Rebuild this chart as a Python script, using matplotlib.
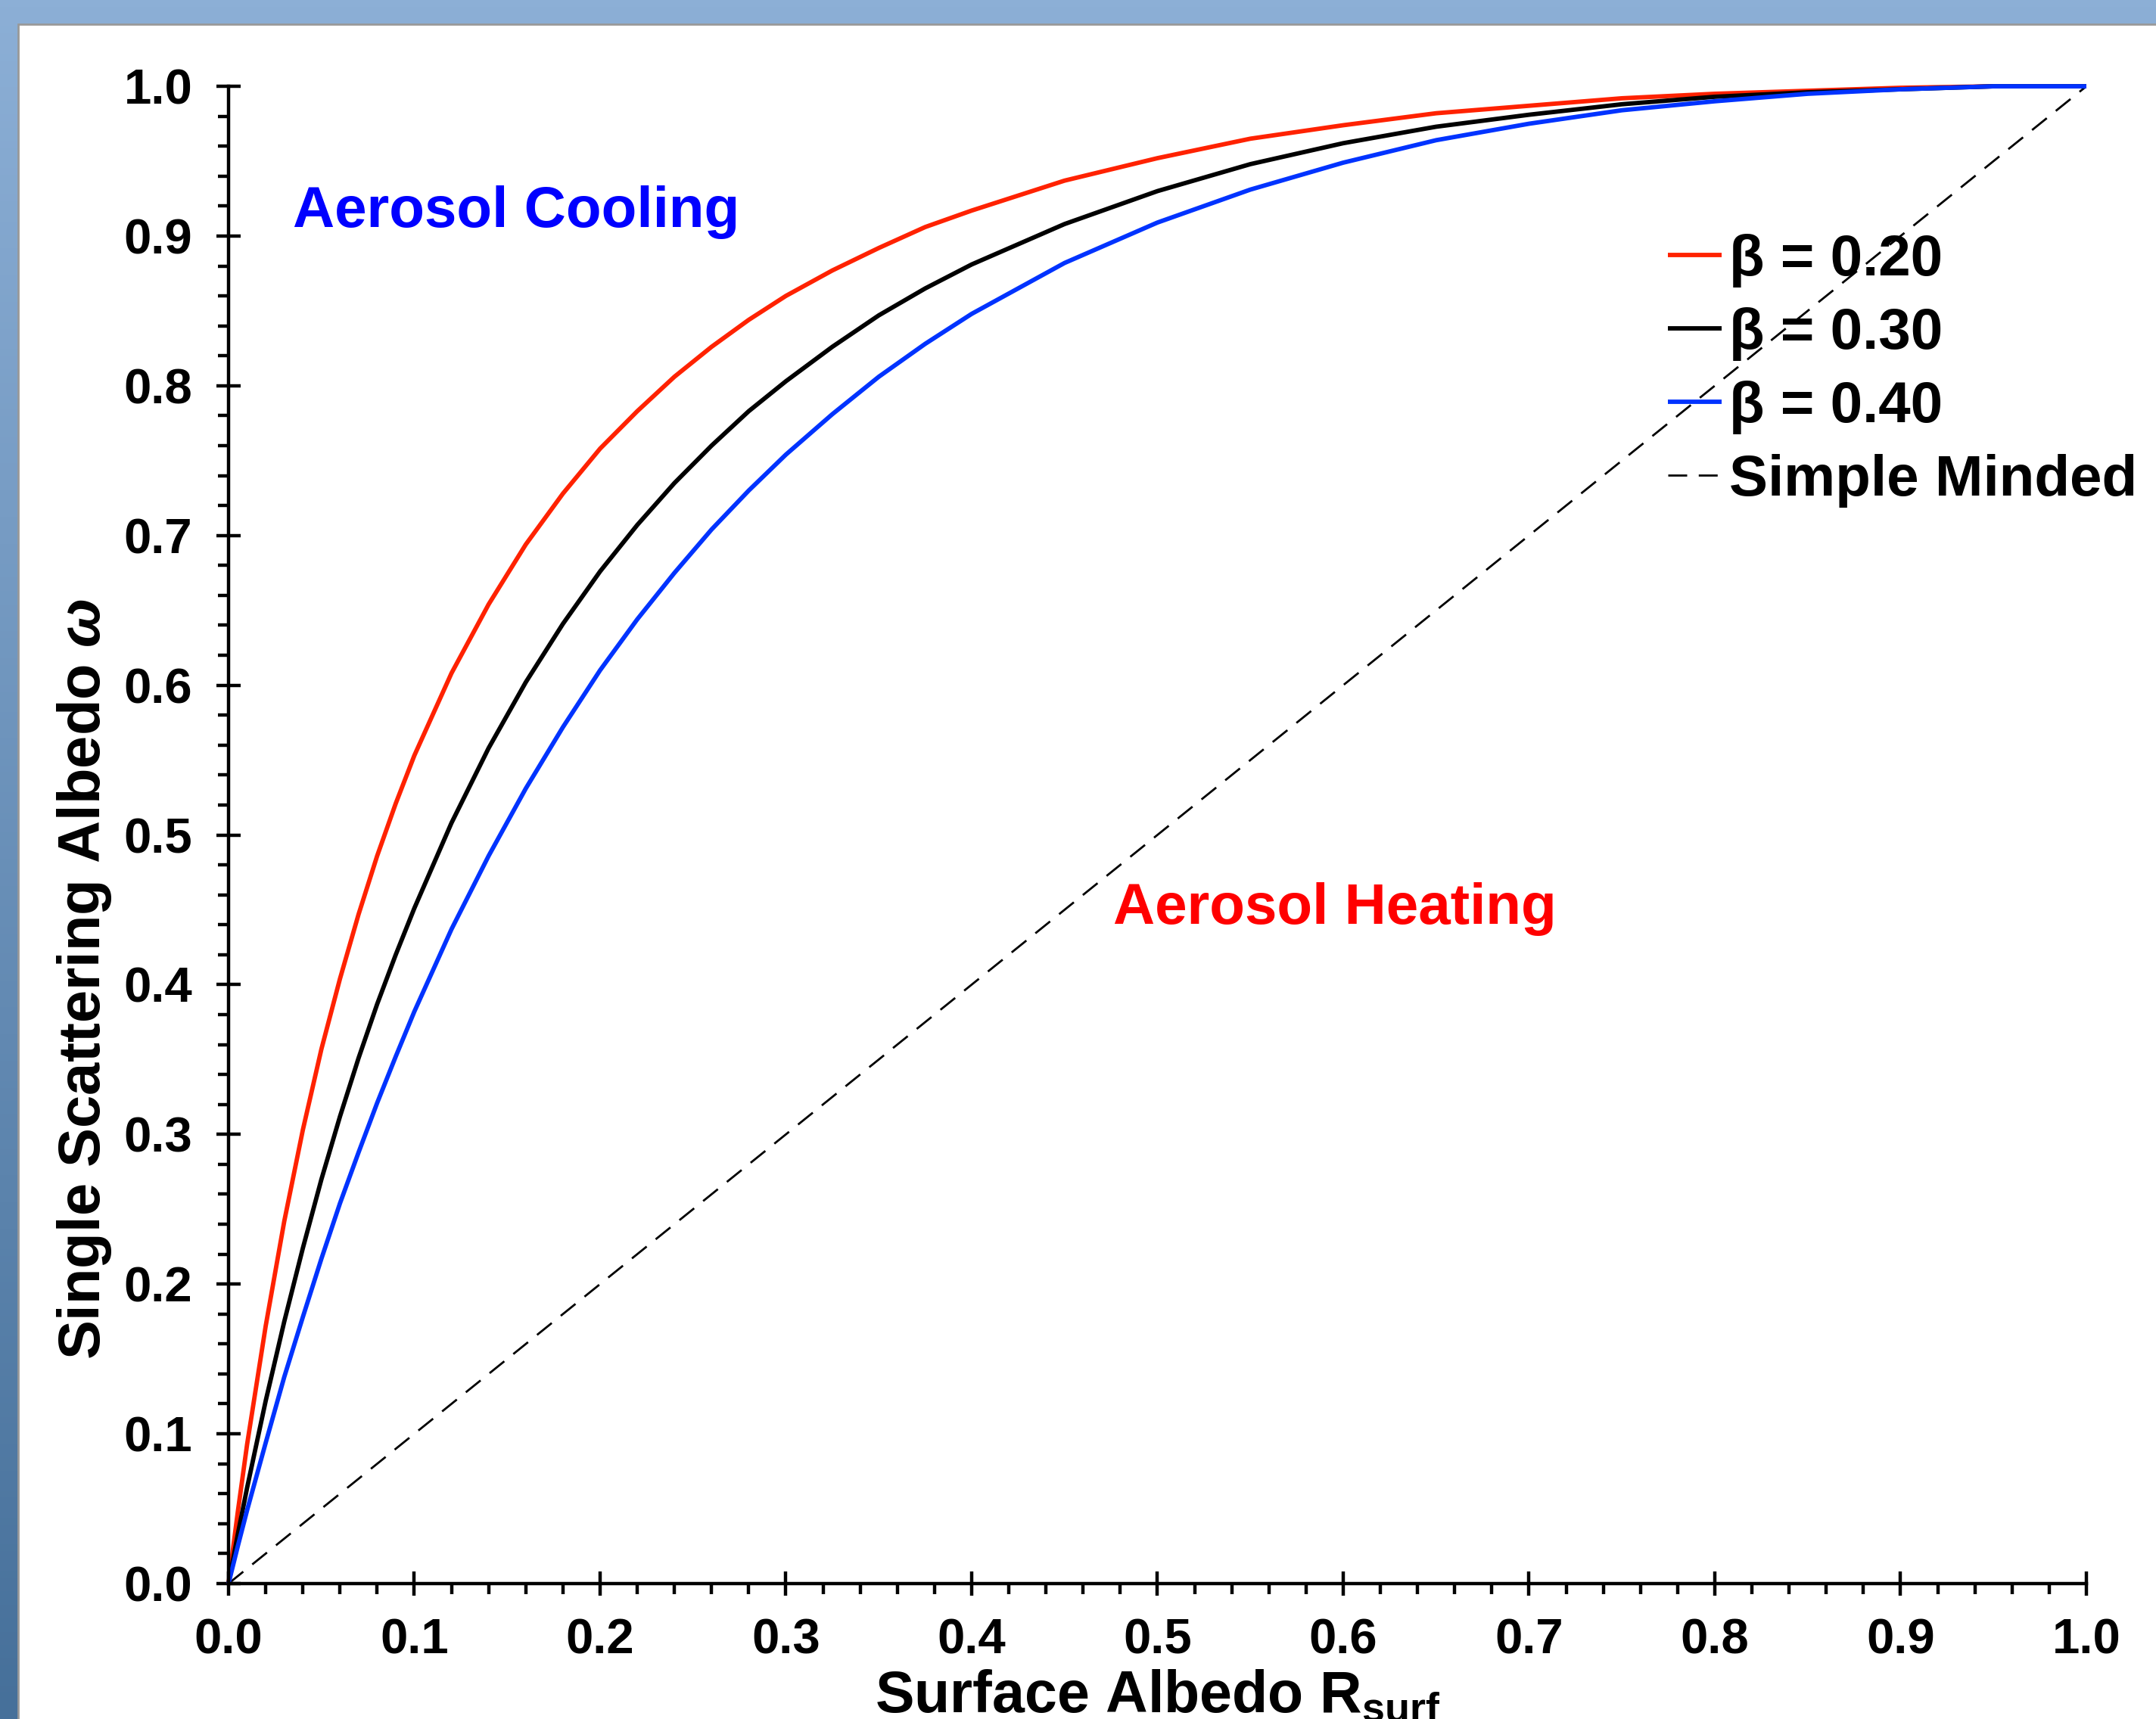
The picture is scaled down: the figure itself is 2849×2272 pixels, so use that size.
import numpy as np
import matplotlib.pyplot as plt
from matplotlib.colors import LinearSegmentedColormap
from matplotlib.patches import Rectangle
from matplotlib.ticker import MultipleLocator, FormatStrFormatter

plt.rcParams['font.family'] = ['Liberation Sans', 'DejaVu Sans']
plt.rcParams['font.weight'] = 'bold'
plt.rcParams['axes.labelweight'] = 'bold'
plt.rcParams['mathtext.fontset'] = 'custom'
plt.rcParams['mathtext.rm'] = 'Liberation Sans:bold'
plt.rcParams['mathtext.it'] = 'Liberation Sans:italic:bold'
plt.rcParams['mathtext.bf'] = 'Liberation Sans:bold'
plt.rcParams['mathtext.default'] = 'rm'

# values (surface albedo vs critical omega)
r_surf = [0, 0.005, 0.01, 0.02, 0.03, 0.04, 0.05, 0.06, 0.07, 0.08, 0.09, 0.10,
          0.12, 0.14, 0.16, 0.18, 0.20, 0.22, 0.24, 0.26, 0.28, 0.30, 0.325,
          0.35, 0.375, 0.40, 0.45, 0.50, 0.55, 0.60, 0.65, 0.70, 0.75, 0.80,
          0.85, 0.90, 0.95, 1.0]
omega_b20 = [0, 0.048, 0.093, 0.172, 0.242, 0.303, 0.357, 0.404, 0.447, 0.486, 0.521, 0.553,
             0.608, 0.654, 0.694, 0.728, 0.758, 0.783, 0.806, 0.826, 0.844, 0.860, 0.877,
             0.892, 0.906, 0.917, 0.937, 0.952, 0.965, 0.974, 0.982, 0.987, 0.992, 0.995,
             0.997, 0.999, 1.0, 1.0]
omega_b30 = [0, 0.033, 0.064, 0.122, 0.175, 0.224, 0.270, 0.312, 0.351, 0.387, 0.420, 0.451,
             0.508, 0.558, 0.602, 0.641, 0.676, 0.707, 0.735, 0.760, 0.783, 0.803, 0.826,
             0.847, 0.865, 0.881, 0.908, 0.930, 0.948, 0.962, 0.973, 0.981, 0.988, 0.993,
             0.996, 0.998, 1.0, 1.0]
omega_b40 = [0, 0.025, 0.049, 0.094, 0.138, 0.178, 0.217, 0.254, 0.288, 0.321, 0.352, 0.382,
             0.437, 0.486, 0.531, 0.572, 0.610, 0.644, 0.675, 0.704, 0.730, 0.754, 0.781,
             0.806, 0.828, 0.848, 0.882, 0.909, 0.931, 0.949, 0.964, 0.975, 0.984, 0.990,
             0.995, 0.998, 1.0, 1.0]

simple_x = [0, 1]
simple_y = [0, 1]

fig = plt.figure(figsize=(28.49, 22.72), dpi=100)

# blue slide frame behind the white page
bg = fig.add_axes([0, 0, 1, 1], zorder=-10)
frame_cmap = LinearSegmentedColormap.from_list('frame', ['#8cafd6', '#46709a'])
bg.imshow(np.linspace(0, 1, 256)[:, None], aspect='auto', cmap=frame_cmap,
          extent=[0, 1, 0, 1], origin='upper')
bg.add_patch(Rectangle((24 / 2849, -0.01), 1.0, 1.01 - 32 / 2272,
                       facecolor='white', edgecolor='#999999', linewidth=2))
bg.set_xlim(0, 1)
bg.set_ylim(0, 1)
bg.axis('off')

ax = fig.add_axes([0.1060, 0.0788, 0.8617, 0.8710])
ax.patch.set_alpha(0)

ax.plot(simple_x, simple_y, color='black', lw=2.0, dashes=(9, 5.5), label='Simple Minded')
line_kw = dict(lw=4.2, clip_on=False, solid_joinstyle='round', solid_capstyle='butt')
ax.plot(r_surf, omega_b20, color='#ff2200', label='β = 0.20', **line_kw)
ax.plot(r_surf, omega_b30, color='black', label='β = 0.30', **line_kw)
ax.plot(r_surf, omega_b40, color='#0033ff', label='β = 0.40', **line_kw)

ax.set_xlim(0, 1)
ax.set_ylim(0, 1)
ax.xaxis.set_major_locator(MultipleLocator(0.1))
ax.yaxis.set_major_locator(MultipleLocator(0.1))
ax.xaxis.set_minor_locator(MultipleLocator(0.02))
ax.yaxis.set_minor_locator(MultipleLocator(0.02))
ax.xaxis.set_major_formatter(FormatStrFormatter('%.1f'))
ax.yaxis.set_major_formatter(FormatStrFormatter('%.1f'))
ax.tick_params(which='major', direction='inout', length=23.5, width=3.2, labelsize=47)
ax.tick_params(axis='x', which='major', pad=21)
ax.tick_params(axis='y', which='major', pad=22.5)
ax.tick_params(which='minor', direction='out', length=10, width=3.2)
for side in ['top', 'right']:
    ax.spines[side].set_visible(False)
for side in ['left', 'bottom']:
    ax.spines[side].set_linewidth(3.2)

ax.set_xlabel('Surface Albedo R$_{surf}$', fontsize=55.5, fontweight='bold')
ax.set_ylabel(r'Single Scattering Albedo $\mathit{\omega}$', fontsize=56, fontweight='bold')
ax.xaxis.set_label_coords(0.5, -0.057)
ax.yaxis.set_label_coords(-0.062, 0.404)

ax.text(0.0346, 0.906, 'Aerosol Cooling', color='#0000ff', fontsize=55,
        ha='left', va='baseline')
ax.text(0.4763, 0.4406, 'Aerosol Heating', color='#ff0000', fontsize=55,
        ha='left', va='baseline')

handles, labels = ax.get_legend_handles_labels()
order = [1, 2, 3, 0]
ax.legend([handles[i] for i in order], [labels[i] for i in order],
          loc='upper left', bbox_to_anchor=(2204 / 2849, 1 - 309 / 2272),
          bbox_transform=fig.transFigure, frameon=False, fontsize=55,
          handlelength=0.93, handletextpad=0.13, labelspacing=0.34,
          borderpad=0, borderaxespad=0)

fig.savefig('out.png', dpi=100)
